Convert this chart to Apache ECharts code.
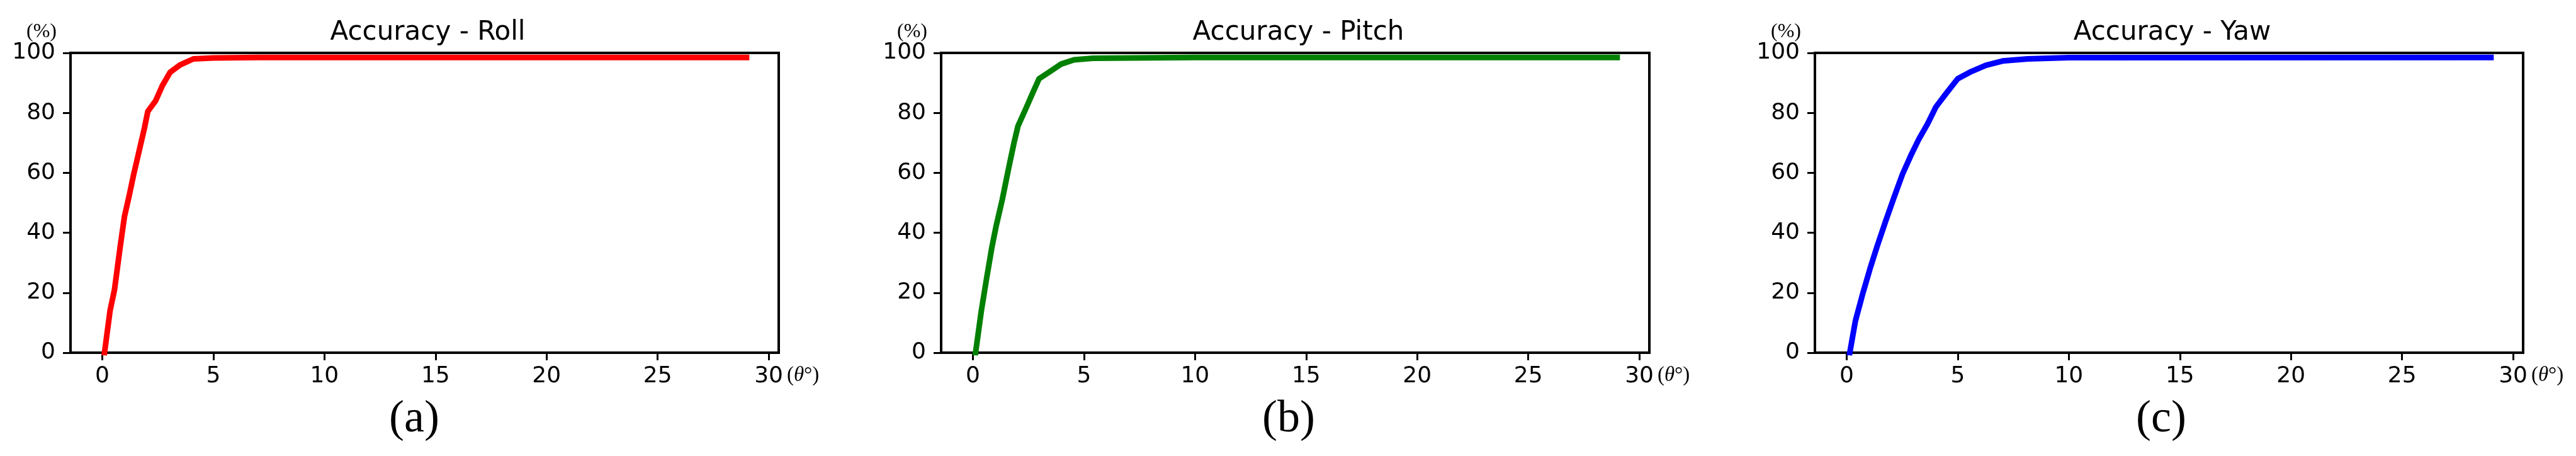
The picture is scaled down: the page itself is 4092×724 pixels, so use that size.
<!DOCTYPE html>
<html lang="en">
  <head>
    <meta charset="UTF-8" />
    <title>Accuracy</title>
    <script src="https://cdn.jsdelivr.net/npm/echarts@6/dist/echarts.min.js"></script>
    <style>
      html, body { margin: 0; padding: 0; background: #fff; }
      #main { width: 4092px; height: 724px; }
    </style>
  </head>
  <body>
    <div id="main"></div>
    <script>
      // data
      const titles = ["Accuracy - Roll", "Accuracy - Pitch", "Accuracy - Yaw"];
      const tags = ["(a)", "(b)", "(c)"];
      const colors = ["#ff0000", "#008000", "#0000ff"];
      const xTicks = [0, 5, 10, 15, 20, 25, 30];

      const rollX = [0.1, 0.35, 0.55, 0.8, 1.0, 1.2, 1.4, 1.65, 1.9, 2.05, 2.4, 2.7, 3.05, 3.5, 4.1, 5.0, 7.0, 29.0];
      const rollY = [0, 14, 21, 35, 45.5, 52, 59, 67, 75, 80.5, 84, 89, 93.5, 96, 98, 98.3, 98.5, 98.5];

      const pitchX = [0.12, 0.38, 0.61, 0.85, 1.04, 1.32, 1.61, 1.85, 2.03, 2.37, 2.7, 2.98, 3.41, 3.98, 4.55, 5.4, 10.0, 29.0];
      const pitchY = [0, 14, 24.5, 35, 42, 51, 61.6, 70, 75.6, 81.2, 86.8, 91.4, 93.5, 96.3, 97.7, 98.2, 98.5, 98.5];

      const yawX = [0.14, 0.39, 0.72, 1.05, 1.38, 1.76, 2.13, 2.51, 2.89, 3.26, 3.64, 4.01, 4.48, 5.0, 5.61, 6.27, 7.02, 8.15, 10.0, 29.0];
      const yawY = [0, 10.5, 19.6, 28, 35.7, 44, 51.8, 59.5, 65.8, 71.4, 76.3, 81.9, 86.5, 91.4, 93.8, 95.9, 97.3, 98, 98.4, 98.5];

      const seriesX = [rollX, pitchX, yawX];
      const seriesY = [rollY, pitchY, yawY];

      window.onload = () => {
        const myChart = echarts.init(document.getElementById("main"));

        const gridLeft = [112, 1495, 2883];
        const gridW = 1125;
        const gridTop = 84;
        const gridH = 476;
        const tagX = [659, 2046, 3434];

        const sans = "DejaVu Sans";
        const serif = "Liberation Serif";

        const option = {
          animation: false,
          backgroundColor: "#fff",
          title: [],
          grid: [],
          xAxis: [],
          yAxis: [],
          series: [],
          graphic: [],
        };

        for (let i = 0; i < 3; i++) {
          option.grid.push({
            left: gridLeft[i],
            top: gridTop,
            width: gridW,
            height: gridH,
            show: true,
            borderColor: "#000",
            borderWidth: 4,
          });
          option.title.push({
            text: titles[i],
            left: gridLeft[i] + gridW / 2,
            top: 26,
            textAlign: "center",
            textStyle: { fontFamily: sans, fontSize: 42, fontWeight: "normal", color: "#000" },
          });
          option.xAxis.push({
            type: "value",
            gridIndex: i,
            min: -1.43,
            max: 30.45,
            splitLine: { show: false },
            axisLine: { show: true, onZero: false, lineStyle: { color: "#000", width: 4 } },
            axisTick: { show: true, customValues: xTicks, length: 12, lineStyle: { color: "#000", width: 3 } },
            axisLabel: {
              customValues: xTicks,
              margin: 20,
              fontFamily: sans,
              fontSize: 36,
              color: "#000",
            },
            name: "{p|(}{t|θ}{p|°)}",
            nameLocation: "end",
            nameGap: 8,
            nameTextStyle: {
              align: "left",
              verticalAlign: "top",
              padding: [20, 0, 0, 0],
              rich: {
                p: { fontFamily: serif, fontSize: 33, color: "#000" },
                t: { fontFamily: serif, fontSize: 33, fontStyle: "italic", color: "#000" },
              },
            },
          });
          option.yAxis.push({
            type: "value",
            gridIndex: i,
            min: 0,
            max: 100,
            interval: 20,
            splitLine: { show: false },
            axisLine: { show: true, onZero: false, lineStyle: { color: "#000", width: 4 } },
            axisTick: { show: true, length: 12, lineStyle: { color: "#000", width: 3 } },
            axisLabel: { margin: 24, fontFamily: sans, fontSize: 36, color: "#000" },
            name: "(%)",
            nameLocation: "end",
            nameGap: 32,
            nameTextStyle: {
              fontFamily: serif,
              fontSize: 32,
              color: "#000",
              align: "right",
              verticalAlign: "middle",
              padding: [0, 22, 0, 0],
            },
          });
          option.series.push({
            type: "line",
            xAxisIndex: i,
            yAxisIndex: i,
            showSymbol: false,
            symbol: "none",
            data: seriesX[i].map((x, k) => [x, seriesY[i][k]]),
            lineStyle: { color: colors[i], width: 9, cap: "square", join: "round" },
          });
          // panel tag under each plot; left/top place the text box's corner
          option.graphic.push({
            type: "text",
            left: tagX[i] - 41,
            top: 630,
            style: {
              text: tags[i],
              fontFamily: serif,
              fontSize: 72,
              fill: "#000",
            },
          });
        }

        myChart.setOption(option);
      };
    </script>
  </body>
</html>
